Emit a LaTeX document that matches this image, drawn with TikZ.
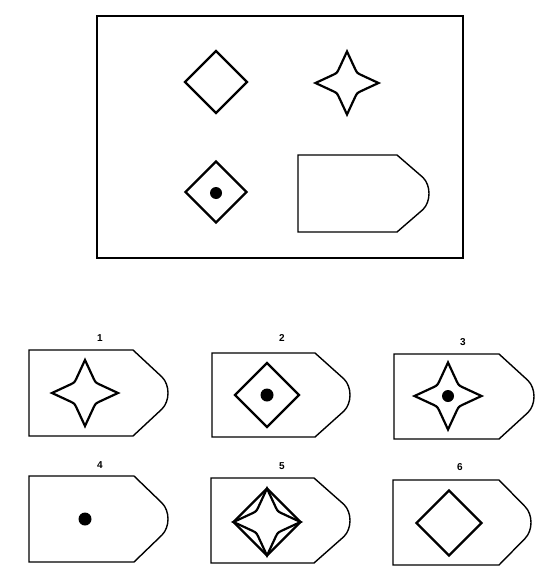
\documentclass[tikz,border=0pt]{standalone}
\usepackage{fontspec}
\setmainfont{Liberation Sans}
\tikzset{
  frameline/.style={line width=1.3pt},
  shieldline/.style={line width=1.4pt, line join=miter},
  figline/.style={line width=2.2pt, line join=miter, miter limit=20},
  lbl/.style={font=\bfseries\normalsize, inner sep=0pt},
  dotfill/.style={fill=black}
}
\newcommand{\myshield}[5]{% L T C X B
  \draw[shieldline] (#1,#2) -- (#3,#2) -- ({#4-6},{(#2+#5)/2-16})
   .. controls ({#4-2},{(#2+#5)/2-12}) and (#4,{(#2+#5)/2-6}) .. (#4,{(#2+#5)/2})
   .. controls (#4,{(#2+#5)/2+6}) and ({#4-2},{(#2+#5)/2+12}) .. ({#4-6},{(#2+#5)/2+16})
   -- (#3,#5) -- (#1,#5) -- cycle;}
\newcommand{\mydiamond}[3]{%
  \draw[figline,shift={(#1,#2)}] (-#3,0) -- (0,-#3) -- (#3,0) -- (0,#3) -- cycle;}
\newcommand{\mystar}[3]{%
  \draw[figline,shift={(#1,#2)},scale=#3] (0,-1) -- (0.26,-0.44) .. controls (0.32,-0.32) .. (0.44,-0.26)
   -- (1,0) -- (0.44,0.26) .. controls (0.32,0.32) .. (0.26,0.44)
   -- (0,1) -- (-0.26,0.44) .. controls (-0.32,0.32) .. (-0.44,0.26)
   -- (-1,0) -- (-0.44,-0.26) .. controls (-0.32,-0.32) .. (-0.26,-0.44) -- cycle;}
\newcommand{\mydot}[3]{\fill[dotfill] (#1,#2) circle[radius=#3];}
\begin{document}
\begin{tikzpicture}[x=1pt,y=-1pt]
\useasboundingbox (0,0) rectangle (548,570);
% problem frame
\draw[frameline] (97,16) rectangle (463,258);
\mydiamond{216}{82}{31}
\mystar{347}{83}{31.5}
\mydiamond{216}{192}{30.5}
\mydot{216}{193}{6}
\myshield{298}{155}{397}{429}{232}
% options
\node[lbl] (l1) at (100,338) {1};
\node[lbl] (l2) at (282,338) {2};
\node[lbl] (l3) at (463,342) {3};
\node[lbl] (l4) at (100,465) {4};
\node[lbl] (l5) at (282,466) {5};
\node[lbl] (l6) at (460,467) {6};
\myshield{29}{350}{133}{168}{436}
\mystar{85}{393}{33}
\myshield{212}{353}{315}{350}{437}
\mydiamond{267}{395}{32}
\mydot{267}{395}{6.5}
\myshield{394}{354}{499}{534}{439}
\mystar{448}{396}{33.5}
\mydot{448}{396}{6}
\myshield{29}{476}{134}{168}{562}
\mydot{85}{519}{6.5}
\myshield{211}{478}{314}{350}{563}
\mydiamond{267}{522}{33.5}
\mystar{267}{522}{33.5}
\myshield{393}{480}{499}{531}{565}
\mydiamond{449}{523}{32.5}
\end{tikzpicture}
\end{document}
